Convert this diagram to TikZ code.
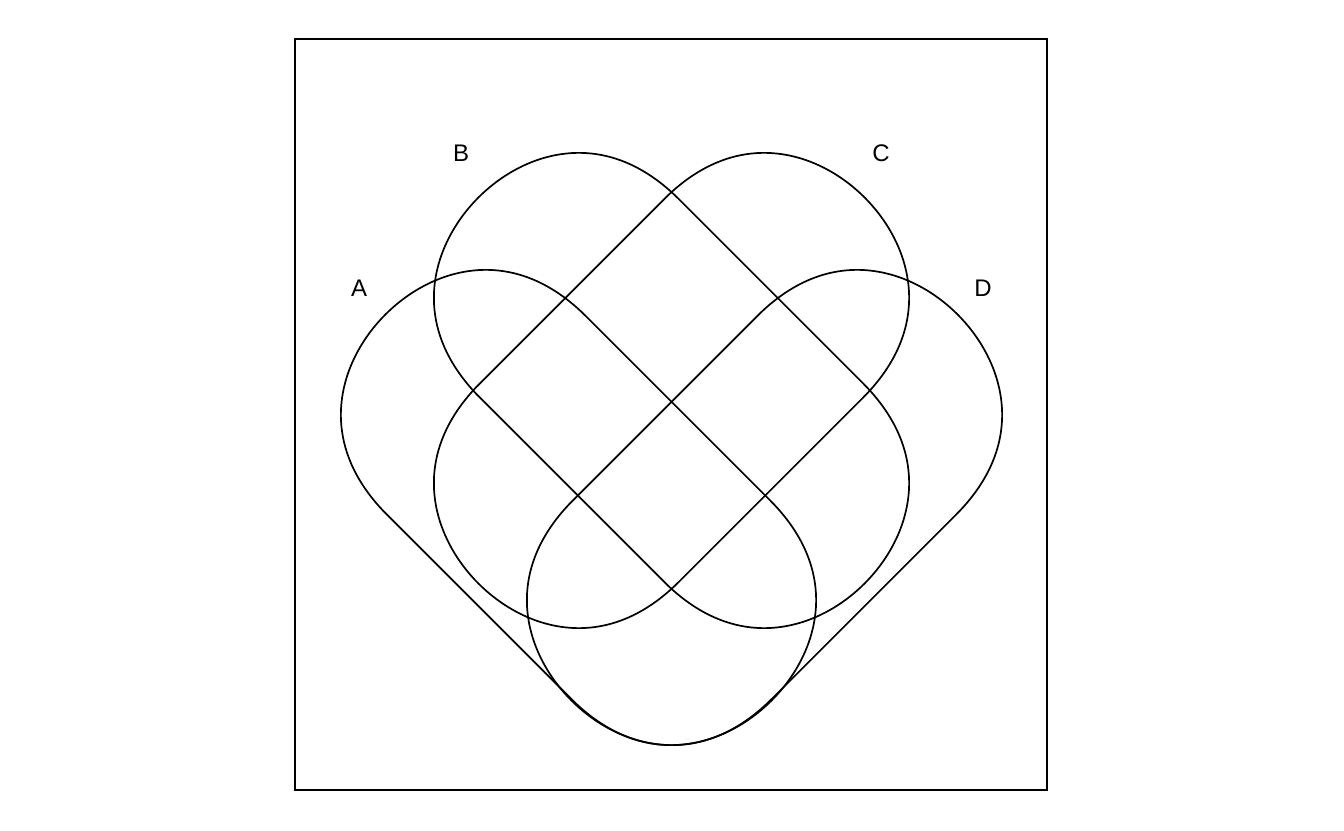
\documentclass[tikz,border=0pt]{standalone}
\usepackage{fontspec}
\setmainfont{Liberation Sans}
\tikzset{
  setshape/.style={line width=1.7pt, line join=round},
  setlabel/.style={font=\fontsize{24}{24}\selectfont, inner sep=0pt},
  framebox/.style={line width=1.7pt},
  declare function={capr(\t)=143.125+0.5625*cos(2*\t)-1.875*cos(4*\t)+0.1875*cos(6*\t);}
}
\newcommand\capsulepath{%
  \draw[setshape]
    plot[domain=-90:90,samples=91] ({131+capr(\x)*cos(\x)},{capr(\x)*sin(\x)})
    -- plot[domain=90:270,samples=91] ({-131+capr(\x)*cos(\x)},{capr(\x)*sin(\x)})
    -- cycle;}
\begin{document}
\begin{tikzpicture}[x=1pt,y=1pt]
  \useasboundingbox (0,0) rectangle (1344,830);
  \draw[framebox] (295,40) rectangle (1047,791);
  \begin{scope}[shift={(578.5,322.5)},rotate=-45] \capsulepath \end{scope}
  \begin{scope}[shift={(671.5,439.5)},rotate=-45] \capsulepath \end{scope}
  \begin{scope}[shift={(671.5,439.5)},rotate=45]  \capsulepath \end{scope}
  \begin{scope}[shift={(764.5,322.5)},rotate=45]  \capsulepath \end{scope}
  \node[setlabel] (labA) at (359,542) {A};
  \node[setlabel] (labB) at (461,677) {B};
  \node[setlabel] (labC) at (881,677) {C};
  \node[setlabel] (labD) at (983,542) {D};
\end{tikzpicture}
\end{document}
